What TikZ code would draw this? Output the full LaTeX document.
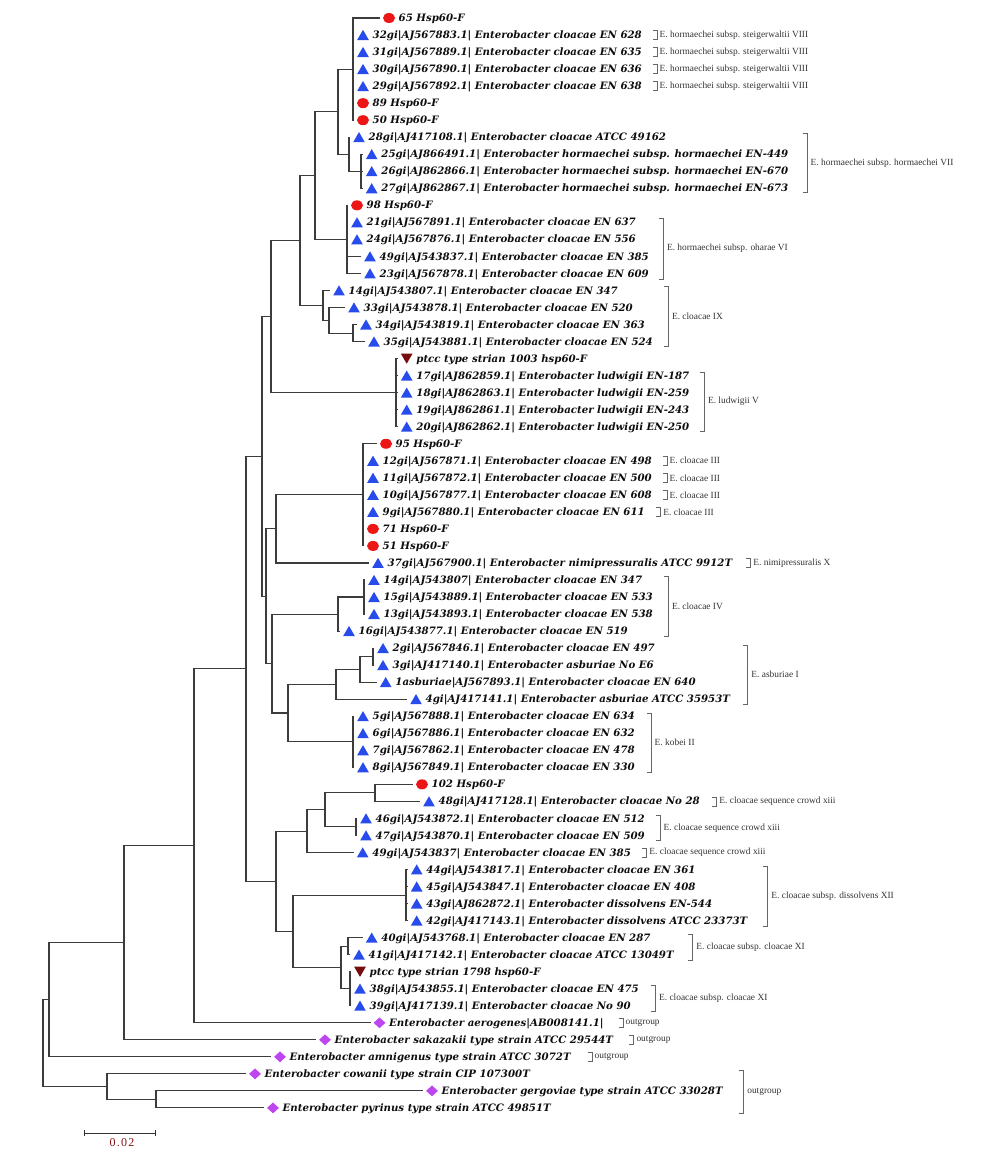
\documentclass[tikz,border=0pt]{standalone}
\usepackage{fontspec}
\setmainfont{Liberation Serif}
\newfontfamily\tipfont{DejaVu Serif}
\newfontfamily\scalefont{Liberation Serif}[LetterSpace=10]
\usetikzlibrary{shapes.geometric}
\definecolor{dotred}{RGB}{236,22,22}
\definecolor{triblue}{RGB}{40,75,235}
\definecolor{dmaroon}{RGB}{118,12,12}
\definecolor{dviolet}{RGB}{190,70,240}
\definecolor{brgray}{RGB}{60,60,60}
\definecolor{scred}{RGB}{135,20,20}
\tikzset{
  br/.style={draw=brgray, line width=1.1pt},
  brk/.style={draw=black!60, line width=0.7pt},
  dot/.style={ellipse, fill=dotred, minimum width=12pt, minimum height=10pt, inner sep=0pt},
  tri/.style={regular polygon, regular polygon sides=3, fill=triblue, minimum size=13.5pt, inner sep=0pt, yshift=-1.6pt},
  dtri/.style={regular polygon, regular polygon sides=3, shape border rotate=180, fill=dmaroon, minimum size=13.5pt, inner sep=0pt, yshift=1.6pt},
  dia/.style={diamond, fill=dviolet, minimum width=12pt, minimum height=11pt, inner sep=0pt},
  lab/.style={anchor=base west, inner sep=0pt, text=black!95, font=\tipfont\bfseries\itshape\fontsize{10.2}{12}\selectfont},
  ann/.style={anchor=west, inner sep=0pt, text=black!80, font=\fontsize{9.4}{11}\selectfont},
}
% leaf: index, parent, branch end x, marker style, text
\newcommand\leaf[5]{%
  \coordinate (e#1) at (#3,{ry(#1)});
  \node[#4] (m#1) at (#3+9,{ry(#1)}) {};
  \node[lab] (t#1) at (#3+18.5,{ry(#1)+3.6}) {#5};
  \draw[br] (#2) |- (e#1);
}
% single-row bracket: name, x, y, text
\newcommand\sbr[4]{%
  \draw[brk] (#2-4.5,{#3-4.5}) -- (#2,{#3-4.5}) -- (#2,{#3+4.5}) -- (#2-4.5,{#3+4.5});
  \node[ann] (#1) at (#2+2.5,#3) {#4};
}
% multi-row bracket: name, x, ytop, ybottom, text
\newcommand\mbr[5]{%
  \draw[brk] (#2-4.5,#3) -- (#2,#3) -- (#2,#4) -- (#2-4.5,#4);
  \node[ann] (#1) at (#2+3.5,{(#3+#4)/2}) {#5};
}
\begin{document}
\begin{tikzpicture}[x=1pt,y=-1pt, declare function={ry(\i)=18+17.03*(\i-1);}]
\useasboundingbox (0,0) rectangle (1000,1156);
% internal nodes
\coordinate (nA) at (353,69.09);
\coordinate (nB2) at (361,171.27);
\coordinate (nB) at (349,154.24);
\coordinate (nAB) at (338,111.665);
\coordinate (nC) at (347,239.39);
\coordinate (nABC) at (315,175.53);
\coordinate (nE3) at (353,333.055);
\coordinate (nE2) at (329,320.28);
\coordinate (nE) at (323,305.38);
\coordinate (nD) at (300,240.455);
\coordinate (nLud) at (396,392.66);
\coordinate (nF) at (271,316.56);
\coordinate (nJ) at (363,494.84);
\coordinate (nI) at (276,528.90);
\coordinate (nL1) at (364,597.02);
\coordinate (nL) at (338,614.05);
\coordinate (nN2) at (373,656.625);
\coordinate (nN1) at (360,669.40);
\coordinate (nN) at (336,684.30);
\coordinate (nKob) at (353,741.775);
\coordinate (nM) at (288,713.04);
\coordinate (nK) at (272,663.545);
\coordinate (nH) at (266,596.22);
\coordinate (nG) at (262,456.39);
\coordinate (nS) at (375,792.865);
\coordinate (nT) at (356,826.925);
\coordinate (nR) at (325,809.895);
\coordinate (nQ) at (307,831.18);
\coordinate (nV) at (406,895.045);
\coordinate (nX) at (348,946.135);
\coordinate (nY) at (350,988.71);
\coordinate (nW) at (341,967.42);
\coordinate (nU) at (293,931.23);
\coordinate (nP) at (276,881.205);
\coordinate (nO) at (246,668.80);
\coordinate (nZ) at (194,845.785);
\coordinate (nAA) at (124,942.79);
\coordinate (nBB) at (49,999.81);
\coordinate (nDD) at (156,1099.405);
\coordinate (nCC) at (107,1086.63);
\coordinate (nRoot) at (43,1043.22);
% internal edges
\draw[br] (nB) |- (nB2);
\draw[br] (nAB) |- (nB);
\draw[br] (nAB) |- (nA);
\draw[br] (nABC) |- (nAB);
\draw[br] (nABC) |- (nC);
\draw[br] (nD) |- (nABC);
\draw[br] (nE2) |- (nE3);
\draw[br] (nE) |- (nE2);
\draw[br] (nD) |- (nE);
\draw[br] (nF) |- (nD);
\draw[br] (nF) |- (nLud);
\draw[br] (nG) |- (nF);
\draw[br] (nI) |- (nJ);
\draw[br] (nH) |- (nI);
\draw[br] (nL) |- (nL1);
\draw[br] (nK) |- (nL);
\draw[br] (nN1) |- (nN2);
\draw[br] (nN) |- (nN1);
\draw[br] (nM) |- (nN);
\draw[br] (nM) |- (nKob);
\draw[br] (nK) |- (nM);
\draw[br] (nH) |- (nK);
\draw[br] (nG) |- (nH);
\draw[br] (nO) |- (nG);
\draw[br] (nR) |- (nS);
\draw[br] (nR) |- (nT);
\draw[br] (nQ) |- (nR);
\draw[br] (nP) |- (nQ);
\draw[br] (nU) |- (nV);
\draw[br] (nW) |- (nX);
\draw[br] (nW) |- (nY);
\draw[br] (nU) |- (nW);
\draw[br] (nP) |- (nU);
\draw[br] (nO) |- (nP);
\draw[br] (nZ) |- (nO);
\draw[br] (nAA) |- (nZ);
\draw[br] (nBB) |- (nAA);
\draw[br] (nRoot) |- (nBB);
\draw[br] (nCC) |- (nDD);
\draw[br] (nRoot) |- (nCC);
% leaves
\leaf{1}{nA}{380}{dot}{65 Hsp60-F}
\leaf{2}{nA}{354}{tri}{32gi|AJ567883.1| Enterobacter cloacae EN 628}
\leaf{3}{nA}{354}{tri}{31gi|AJ567889.1| Enterobacter cloacae EN 635}
\leaf{4}{nA}{354}{tri}{30gi|AJ567890.1| Enterobacter cloacae EN 636}
\leaf{5}{nA}{354}{tri}{29gi|AJ567892.1| Enterobacter cloacae EN 638}
\leaf{6}{nA}{354}{dot}{89 Hsp60-F}
\leaf{7}{nA}{354}{dot}{50 Hsp60-F}
\leaf{8}{nB}{350}{tri}{28gi|AJ417108.1| Enterobacter cloacae ATCC 49162}
\leaf{9}{nB2}{362.7}{tri}{25gi|AJ866491.1| Enterobacter hormaechei subsp. hormaechei EN-449}
\leaf{10}{nB2}{362.7}{tri}{26gi|AJ862866.1| Enterobacter hormaechei subsp. hormaechei EN-670}
\leaf{11}{nB2}{362.7}{tri}{27gi|AJ862867.1| Enterobacter hormaechei subsp. hormaechei EN-673}
\leaf{12}{nC}{348}{dot}{98 Hsp60-F}
\leaf{13}{nC}{348}{tri}{21gi|AJ567891.1| Enterobacter cloacae EN 637}
\leaf{14}{nC}{348}{tri}{24gi|AJ567876.1| Enterobacter cloacae EN 556}
\leaf{15}{nC}{361}{tri}{49gi|AJ543837.1| Enterobacter cloacae EN 385}
\leaf{16}{nC}{361}{tri}{23gi|AJ567878.1| Enterobacter cloacae EN 609}
\leaf{17}{nE}{330}{tri}{14gi|AJ543807.1| Enterobacter cloacae EN 347}
\leaf{18}{nE2}{345}{tri}{33gi|AJ543878.1| Enterobacter cloacae EN 520}
\leaf{19}{nE3}{357}{tri}{34gi|AJ543819.1| Enterobacter cloacae EN 363}
\leaf{20}{nE3}{365}{tri}{35gi|AJ543881.1| Enterobacter cloacae EN 524}
\leaf{21}{nLud}{397.7}{dtri}{ptcc type strian 1003 hsp60-F}
\leaf{22}{nLud}{397.7}{tri}{17gi|AJ862859.1| Enterobacter ludwigii EN-187}
\leaf{23}{nLud}{397.7}{tri}{18gi|AJ862863.1| Enterobacter ludwigii EN-259}
\leaf{24}{nLud}{397.7}{tri}{19gi|AJ862861.1| Enterobacter ludwigii EN-243}
\leaf{25}{nLud}{397.7}{tri}{20gi|AJ862862.1| Enterobacter ludwigii EN-250}
\leaf{26}{nJ}{377}{dot}{95 Hsp60-F}
\leaf{27}{nJ}{364}{tri}{12gi|AJ567871.1| Enterobacter cloacae EN 498}
\leaf{28}{nJ}{364}{tri}{11gi|AJ567872.1| Enterobacter cloacae EN 500}
\leaf{29}{nJ}{364}{tri}{10gi|AJ567877.1| Enterobacter cloacae EN 608}
\leaf{30}{nJ}{364}{tri}{9gi|AJ567880.1| Enterobacter cloacae EN 611}
\leaf{31}{nJ}{364}{dot}{71 Hsp60-F}
\leaf{32}{nJ}{364}{dot}{51 Hsp60-F}
\leaf{33}{nI}{369}{tri}{37gi|AJ567900.1| Enterobacter nimipressuralis ATCC 9912T}
\leaf{34}{nL1}{365}{tri}{14gi|AJ543807| Enterobacter cloacae EN 347}
\leaf{35}{nL1}{365}{tri}{15gi|AJ543889.1| Enterobacter cloacae EN 533}
\leaf{36}{nL1}{365}{tri}{13gi|AJ543893.1| Enterobacter cloacae EN 538}
\leaf{37}{nL}{340}{tri}{16gi|AJ543877.1| Enterobacter cloacae EN 519}
\leaf{38}{nN2}{374}{tri}{2gi|AJ567846.1| Enterobacter cloacae EN 497}
\leaf{39}{nN2}{374}{tri}{3gi|AJ417140.1| Enterobacter asburiae No E6}
\leaf{40}{nN1}{376.7}{tri}{1asburiae|AJ567893.1| Enterobacter cloacae EN 640}
\leaf{41}{nN}{407}{tri}{4gi|AJ417141.1| Enterobacter asburiae ATCC 35953T}
\leaf{42}{nKob}{354}{tri}{5gi|AJ567888.1| Enterobacter cloacae EN 634}
\leaf{43}{nKob}{354}{tri}{6gi|AJ567886.1| Enterobacter cloacae EN 632}
\leaf{44}{nKob}{354}{tri}{7gi|AJ567862.1| Enterobacter cloacae EN 478}
\leaf{45}{nKob}{354}{tri}{8gi|AJ567849.1| Enterobacter cloacae EN 330}
\leaf{46}{nS}{413}{dot}{102 Hsp60-F}
\leaf{47}{nS}{420}{tri}{48gi|AJ417128.1| Enterobacter cloacae No 28}
\leaf{48}{nT}{357}{tri}{46gi|AJ543872.1| Enterobacter cloacae EN 512}
\leaf{49}{nT}{357}{tri}{47gi|AJ543870.1| Enterobacter cloacae EN 509}
\leaf{50}{nQ}{353.7}{tri}{49gi|AJ543837| Enterobacter cloacae EN 385}
\leaf{51}{nV}{407.7}{tri}{44gi|AJ543817.1| Enterobacter cloacae EN 361}
\leaf{52}{nV}{407.7}{tri}{45gi|AJ543847.1| Enterobacter cloacae EN 408}
\leaf{53}{nV}{407.7}{tri}{43gi|AJ862872.1| Enterobacter dissolvens EN-544}
\leaf{54}{nV}{407.7}{tri}{42gi|AJ417143.1| Enterobacter dissolvens ATCC 23373T}
\leaf{55}{nX}{362.7}{tri}{40gi|AJ543768.1| Enterobacter cloacae EN 287}
\leaf{56}{nX}{350}{tri}{41gi|AJ417142.1| Enterobacter cloacae ATCC 13049T}
\leaf{57}{nY}{351}{dtri}{ptcc type strian 1798 hsp60-F}
\leaf{58}{nY}{351}{tri}{38gi|AJ543855.1| Enterobacter cloacae EN 475}
\leaf{59}{nY}{351}{tri}{39gi|AJ417139.1| Enterobacter cloacae No 90}
\leaf{60}{nZ}{370.5}{dia}{Enterobacter aerogenes|AB008141.1|}
\leaf{61}{nAA}{316}{dia}{Enterobacter sakazakii type strain ATCC 29544T}
\leaf{62}{nBB}{271}{dia}{Enterobacter amnigenus type strain ATCC 3072T}
\leaf{63}{nCC}{246}{dia}{Enterobacter cowanii type strain CIP 107300T}
\leaf{64}{nDD}{423}{dia}{Enterobacter gergoviae type strain ATCC 33028T}
\leaf{65}{nDD}{264}{dia}{Enterobacter pyrinus type strain ATCC 49851T}
% annotations
\sbr{a2}{657}{35.03}{E. hormaechei subsp. steigerwaltii VIII}
\sbr{a3}{657}{52.06}{E. hormaechei subsp. steigerwaltii VIII}
\sbr{a4}{657}{69.09}{E. hormaechei subsp. steigerwaltii VIII}
\sbr{a5}{657}{86.12}{E. hormaechei subsp. steigerwaltii VIII}
\mbr{a7}{807}{133.3}{192.3}{E. hormaechei subsp. hormaechei VII}
\mbr{a6}{663.3}{218.3}{279}{E. hormaechei subsp. oharae VI}
\mbr{a9}{668.3}{286.7}{346.7}{E. cloacae IX}
\mbr{a5b}{704.3}{372.3}{431}{E. ludwigii V}
\sbr{a27}{667}{460.78}{E. cloacae III}
\sbr{a28}{667}{477.81}{E. cloacae III}
\sbr{a29}{667}{494.84}{E. cloacae III}
\sbr{a30}{660.7}{511.87}{E. cloacae III}
\sbr{a33}{750.7}{562.96}{E. nimipressuralis X}
\mbr{a4b}{668.3}{576}{636.7}{E. cloacae IV}
\mbr{a1}{747.7}{645}{704}{E. asburiae I}
\mbr{a2b}{651}{713}{772.3}{E. kobei II}
\sbr{a47}{716.7}{801.38}{E. cloacae sequence crowd xiii}
\mbr{a48}{660}{815}{840.7}{E. cloacae sequence crowd xiii}
\sbr{a50}{646.7}{852.47}{E. cloacae sequence crowd xiii}
\mbr{a12}{767.7}{866.7}{926}{E. cloacae subsp. dissolvens XII}
\mbr{a11}{692.7}{934}{960}{E. cloacae subsp. cloacae XI}
\mbr{a11b}{655.4}{985}{1011}{E. cloacae subsp. cloacae XI}
\sbr{o60}{623}{1022.77}{outgroup}
\sbr{o61}{633.8}{1039.8}{outgroup}
\sbr{o62}{592}{1056.83}{outgroup}
\mbr{o63}{743.6}{1070.7}{1113}{outgroup}
% scale bar
\coordinate (s1) at (84.6,1133);
\coordinate (s2) at (155.4,1133);
\draw[black!80, line width=1pt] (s1) -- (s2);
\draw[black!80, line width=1pt] ([yshift=3pt]s1) -- ([yshift=-3pt]s1);
\draw[black!80, line width=1pt] ([yshift=3pt]s2) -- ([yshift=-3pt]s2);
\node[text=scred, font=\scalefont\fontsize{12}{13}\selectfont, inner sep=0pt] (sc) at (122,1143) {0.02};
\end{tikzpicture}
\end{document}
